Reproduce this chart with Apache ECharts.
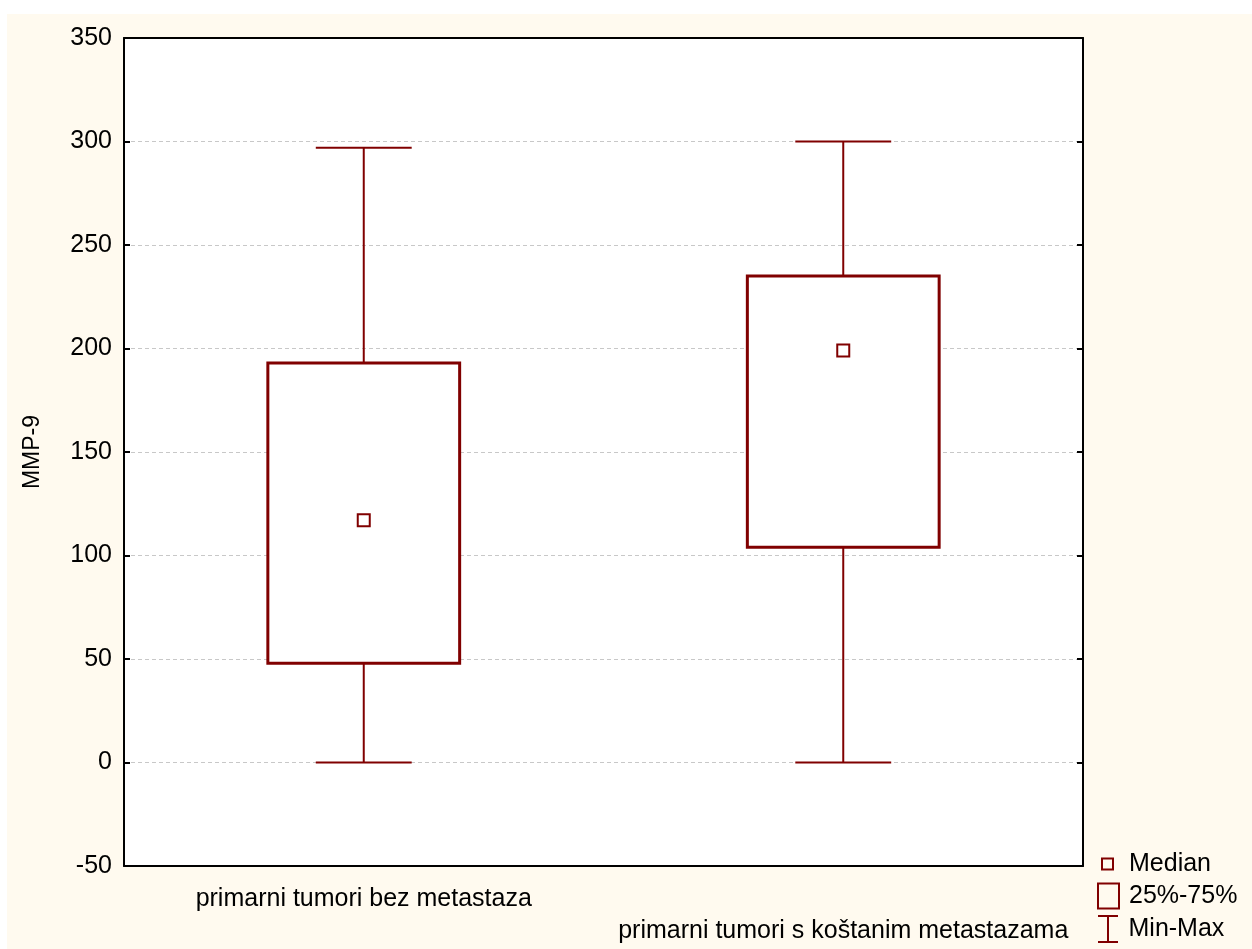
<!DOCTYPE html>
<html>
<head>
<meta charset="utf-8">
<script src="https://cdn.jsdelivr.net/npm/echarts@6/dist/echarts.min.js"></script>
<style>
html, body { margin: 0; padding: 0; background: #fff; }
#bg { position: absolute; left: 7px; top: 14px; width: 1245px; height: 935px; background: #fffaef; }
#chart { position: absolute; left: 0; top: 0; width: 1252px; height: 949px; }
</style>
</head>
<body>
<div id="bg"></div>
<div id="chart"></div>
<script>
// MMP-9 po skupinama
var categories = ['primarni tumori bez metastaza', 'primarni tumori s koštanim metastazama'];
var minValues = [0, 0];
var q1Values = [48, 104];
var medianValues = [117, 199];
var q3Values = [193, 235];
var maxValues = [297, 300];
var yMin = -50, yMax = 350, yStep = 50;

var RED = '#800000';
var FONT = 'Arial, "Liberation Sans", sans-serif';

var boxData = [], whiskerData = [], medianData = [];
for (var i = 0; i < categories.length; i++) {
    boxData.push([i, q1Values[i], q3Values[i]]);
    whiskerData.push([i, minValues[i], q1Values[i], q3Values[i], maxValues[i]]);
    medianData.push([i, medianValues[i]]);
}

function renderBox(params, api) {
    var x = api.value(0);
    var lo = api.coord([x, api.value(1)]);
    var hi = api.coord([x, api.value(2)]);
    var w = api.size([1, 0])[0] * 0.4;
    return {
        type: 'rect',
        shape: { x: lo[0] - w / 2, y: hi[1], width: w, height: lo[1] - hi[1] },
        style: { fill: '#fff', stroke: RED, lineWidth: 3 }
    };
}

function renderWhisker(params, api) {
    var x = api.value(0);
    var pMin = api.coord([x, api.value(1)]);
    var pQ1 = api.coord([x, api.value(2)]);
    var pQ3 = api.coord([x, api.value(3)]);
    var pMax = api.coord([x, api.value(4)]);
    var c = api.size([1, 0])[0] * 0.1;
    var st = { stroke: RED, lineWidth: 2 };
    function seg(x1, y1, x2, y2) {
        return { type: 'line', shape: { x1: x1, y1: y1, x2: x2, y2: y2 }, style: st };
    }
    return {
        type: 'group',
        children: [
            seg(pMin[0], pMin[1], pQ1[0], pQ1[1]),
            seg(pQ3[0], pQ3[1], pMax[0], pMax[1]),
            seg(pMin[0] - c, pMin[1], pMin[0] + c, pMin[1]),
            seg(pMax[0] - c, pMax[1], pMax[0] + c, pMax[1])
        ]
    };
}

function legendBox(name, icon, left, top, w, h, pad) {
    return {
        data: [{ name: name, icon: icon }],
        orient: 'vertical',
        left: left,
        top: top,
        padding: 0,
        itemWidth: w,
        itemHeight: h,
        itemStyle: { color: 'transparent', borderColor: RED, borderWidth: 2 },
        textStyle: { color: '#000', fontSize: 25, fontFamily: FONT, lineHeight: 28, padding: [0, 0, 0, pad] }
    };
}

var chart = echarts.init(document.getElementById('chart'));
var option = {
    animation: false,
    backgroundColor: 'transparent',
    grid: {
        left: 124, top: 38, right: 169, bottom: 83,
        show: true, backgroundColor: '#fff', borderWidth: 0
    },
    legend: [
        legendBox('Median', 'rect', 1101, 850, 11, 11, 11),
        legendBox('25%-75%', 'rect', 1097, 882, 21, 25, 5),
        legendBox('Min-Max', 'path://M0,0L20,0M10,0L10,26M0,26L20,26', 1097, 915, 21, 26, 5)
    ],
    xAxis: [
        {
            type: 'category',
            data: categories,
            position: 'bottom',
            axisLine: { onZero: false, lineStyle: { color: '#000', width: 2 } },
            axisTick: { inside: true, alignWithLabel: true, length: 6, lineStyle: { color: '#000', width: 2 } },
            axisLabel: {
                interval: 0, margin: 17, color: '#000', fontSize: 25, fontFamily: FONT, lineHeight: 32,
                formatter: function(value, index) {
                    return index === 1 ? '\n' + value : value;
                }
            },
            splitLine: { show: false }
        },
        {
            type: 'category',
            data: categories,
            position: 'top',
            axisLine: { onZero: false, lineStyle: { color: '#000', width: 2 } },
            axisTick: { inside: true, alignWithLabel: true, length: 6, lineStyle: { color: '#000', width: 2 } },
            axisLabel: { show: false },
            splitLine: { show: false }
        }
    ],
    yAxis: [
        {
            type: 'value',
            min: yMin, max: yMax, interval: yStep,
            name: 'MMP-9',
            nameLocation: 'middle',
            nameGap: 80,
            nameTextStyle: { color: '#000', fontSize: 23, fontFamily: FONT },
            axisLine: { show: true, onZero: false, lineStyle: { color: '#000', width: 2 } },
            axisTick: { show: true, inside: true, length: 6, lineStyle: { color: '#000', width: 2 } },
            axisLabel: { margin: 12, color: '#000', fontSize: 25, fontFamily: FONT },
            splitLine: { show: true, lineStyle: { color: '#c8c8c8', width: 1, type: [4, 3] } }
        },
        {
            type: 'value',
            position: 'right',
            min: yMin, max: yMax, interval: yStep,
            axisLine: { show: true, onZero: false, lineStyle: { color: '#000', width: 2 } },
            axisTick: { show: true, inside: true, length: 6, lineStyle: { color: '#000', width: 2 } },
            axisLabel: { show: false },
            splitLine: { show: false }
        }
    ],
    series: [
        {
            name: 'Min-Max',
            type: 'custom',
            renderItem: renderWhisker,
            encode: { x: 0, y: [1, 2, 3, 4] },
            itemStyle: { color: RED },
            z: 2,
            data: whiskerData
        },
        {
            name: '25%-75%',
            type: 'custom',
            renderItem: renderBox,
            encode: { x: 0, y: [1, 2] },
            itemStyle: { color: RED },
            z: 3,
            data: boxData
        },
        {
            name: 'Median',
            type: 'scatter',
            symbol: 'rect',
            symbolSize: 12,
            itemStyle: { color: '#fff', borderColor: RED, borderWidth: 2, opacity: 1 },
            z: 4,
            data: medianData
        }
    ]
};
chart.setOption(option);
</script>
</body>
</html>
